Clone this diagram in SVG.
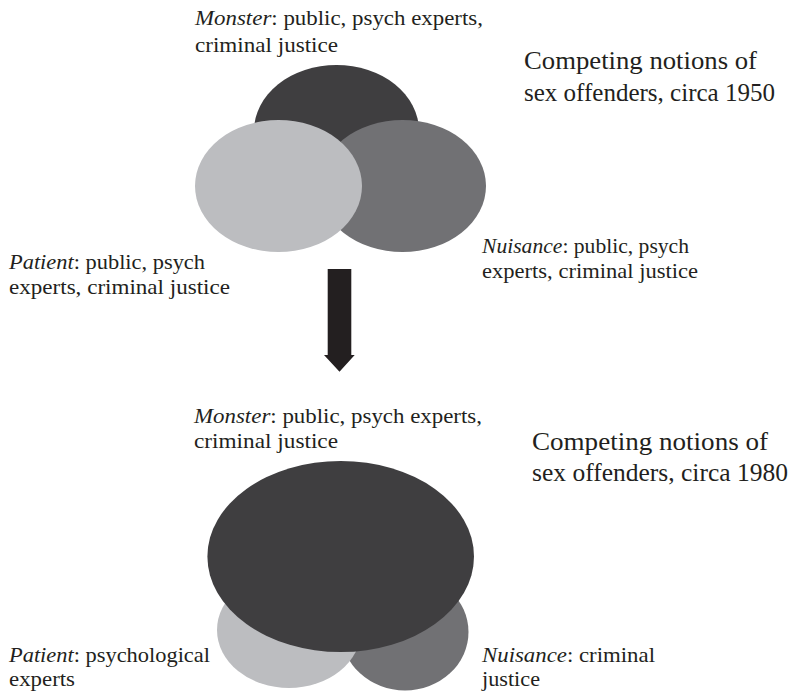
<svg xmlns="http://www.w3.org/2000/svg" width="795" height="698" viewBox="0 0 795 698">
<style>
text{font-family:"Liberation Serif","Times New Roman",serif;fill:#231f20}
.lbl{font-size:21px}
.ttl{font-size:24.5px}
.it{font-style:italic}
.dark{fill:#3f3e40}
.light{fill:#bcbdc0}
.gray{fill:#717174}
.arrow{fill:#231f20}
</style>
<rect width="795" height="698" fill="#ffffff"/>
<g id="diagram-1950">
  <g id="monster-1950">
    <ellipse class="dark" cx="336.5" cy="131" rx="82.5" ry="66"/>
    <text class="lbl" x="195" y="25" textLength="288" lengthAdjust="spacingAndGlyphs"><tspan class="it">Monster</tspan>: public, psych experts,</text>
    <text class="lbl" x="195" y="52" textLength="143" lengthAdjust="spacingAndGlyphs">criminal justice</text>
  </g>
  <g id="nuisance-1950">
    <ellipse class="gray" cx="402.5" cy="186" rx="83.5" ry="66"/>
    <text class="lbl" x="482" y="253" textLength="207" lengthAdjust="spacingAndGlyphs"><tspan class="it">Nuisance</tspan>: public, psych</text>
    <text class="lbl" x="482" y="278" textLength="216" lengthAdjust="spacingAndGlyphs">experts, criminal justice</text>
  </g>
  <g id="patient-1950">
    <ellipse class="light" cx="278.5" cy="186" rx="83.5" ry="66"/>
    <text class="lbl" x="9" y="269" textLength="196" lengthAdjust="spacingAndGlyphs"><tspan class="it">Patient</tspan>: public, psych</text>
    <text class="lbl" x="9" y="294" textLength="221" lengthAdjust="spacingAndGlyphs">experts, criminal justice</text>
  </g>
  <g id="title-1950">
    <text class="ttl" x="524" y="69" textLength="233" lengthAdjust="spacingAndGlyphs">Competing notions of</text>
    <text class="ttl" x="524" y="101" textLength="251" lengthAdjust="spacingAndGlyphs">sex offenders, circa 1950</text>
  </g>
</g>
<g id="connectors">
  <path class="arrow" d="M327.7,269 H351.3 V355 H354.7 L339.5,371.7 L324,355 H327.7 Z"/>
</g>
<g id="diagram-1980">
  <g id="nuisance-1980">
    <ellipse class="gray" cx="405" cy="632" rx="63.5" ry="58.5"/>
    <text class="lbl" x="482" y="661.5" textLength="173" lengthAdjust="spacingAndGlyphs"><tspan class="it">Nuisance</tspan>: criminal</text>
    <text class="lbl" x="482" y="686" textLength="58" lengthAdjust="spacingAndGlyphs">justice</text>
  </g>
  <g id="patient-1980">
    <ellipse class="light" cx="289" cy="630" rx="72" ry="58"/>
    <text class="lbl" x="9" y="661.5" textLength="201" lengthAdjust="spacingAndGlyphs"><tspan class="it">Patient</tspan>: psychological</text>
    <text class="lbl" x="9" y="686" textLength="66" lengthAdjust="spacingAndGlyphs">experts</text>
  </g>
  <g id="monster-1980">
    <ellipse class="dark" cx="340.7" cy="556.5" rx="133.3" ry="95.5"/>
    <text class="lbl" x="194" y="423" textLength="288" lengthAdjust="spacingAndGlyphs"><tspan class="it">Monster</tspan>: public, psych experts,</text>
    <text class="lbl" x="194" y="448" textLength="144" lengthAdjust="spacingAndGlyphs">criminal justice</text>
  </g>
  <g id="title-1980">
    <text class="ttl" x="532" y="449.5" textLength="236" lengthAdjust="spacingAndGlyphs">Competing notions of</text>
    <text class="ttl" x="532" y="480.5" textLength="256" lengthAdjust="spacingAndGlyphs">sex offenders, circa 1980</text>
  </g>
</g>
</svg>
